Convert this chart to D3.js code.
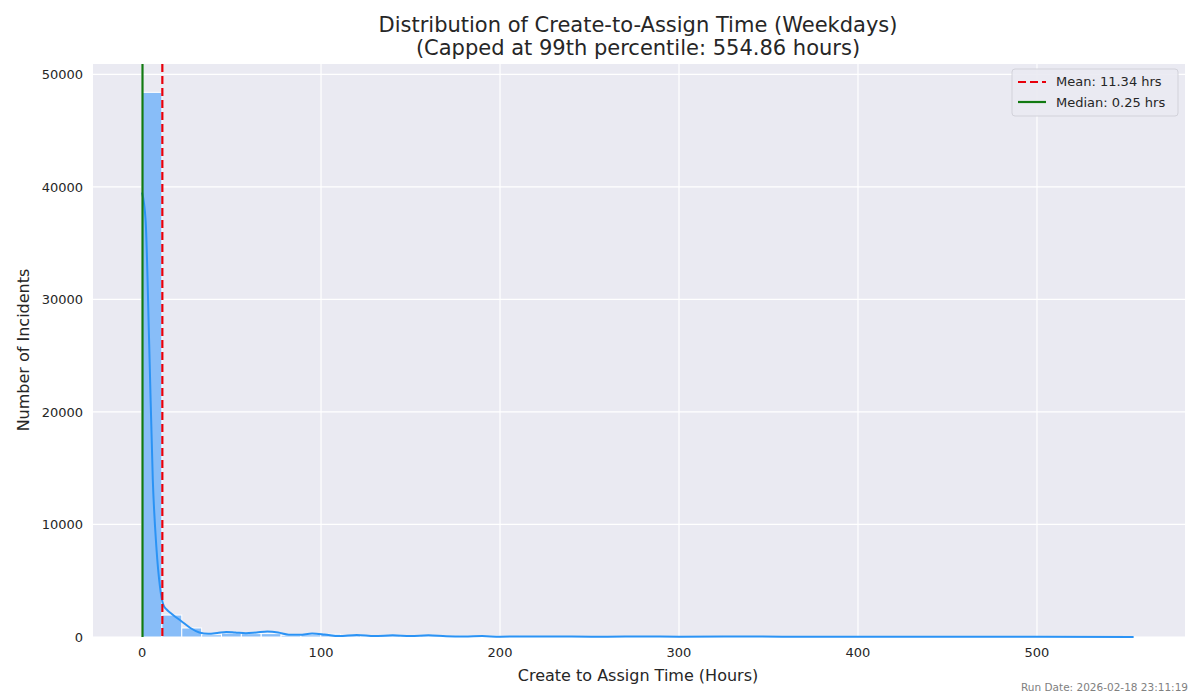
<!DOCTYPE html><html><head><meta charset="utf-8"><script src="https://cdn.jsdelivr.net/npm/d3@7"></script>
<style>body{margin:0;background:#fff}text{font-family:"DejaVu Sans",sans-serif}</style></head><body><svg id="c" width="1200" height="700"></svg>
<script>
const binMax=554.86, nBins=50;
const binCounts=[48400,1950,800,200,350,300,300,150,200,250,150,100,150,100,120,80,100,90,60,60,50,50,40,40,40,30,40,40,30,30,30,35,30,25,30,25,25,20,25,20,20,20,20,15,20,15,15,15,12,10];
const kdeX=[0,2,4,6,8,10,12,14,17,22,27,32,37,42,47,52,58,64,70,76,82,88,95,102,110,120,130,140,150,160,170,180,190,200,220,240,260,280,300,330,360,400,450,500,554];
const kdeY=[39500,37000,26000,14000,8000,4500,2800,2400,2000,1400,800,400,280,350,450,400,330,400,480,400,200,200,300,220,80,180,80,150,80,150,60,40,80,30,50,40,30,40,30,40,30,20,30,20,10];
const meanV=11.34, medianV=0.25;
const xTicks=[0,100,200,300,400,500], yTicks=[0,10000,20000,30000,40000,50000];
const svg=d3.select("#c");
const L=93,R=1185,T=64,B=637;
const x=d3.scale=d3.scaleLinear().domain([-27.4,582.7]).range([L,R]);
const y=d3.scaleLinear().domain([0,50920]).range([B,T]);
svg.append("rect").attr("x",L).attr("y",T).attr("width",R-L).attr("height",B-T).attr("fill","#eaeaf2");
xTicks.forEach(t=>svg.append("line").attr("x1",x(t)).attr("x2",x(t)).attr("y1",T).attr("y2",B).attr("stroke","#fff").attr("stroke-width",1.2));
yTicks.forEach(t=>svg.append("line").attr("x1",L).attr("x2",R).attr("y1",y(t)).attr("y2",y(t)).attr("stroke","#fff").attr("stroke-width",1.2));
const bw=binMax/nBins;
svg.selectAll(".b").data(binCounts).enter().append("rect").attr("x",(d,i)=>x(i*bw)).attr("width",x(bw)-x(0)).attr("y",d=>y(d)).attr("height",d=>B-y(d)).attr("fill","#88bdf8").attr("stroke","#fff").attr("stroke-width",1);
svg.append("path").datum(kdeX.map((v,i)=>[v,kdeY[i]])).attr("d",d3.line().x(d=>x(d[0])).y(d=>y(d[1])).curve(d3.curveMonotoneX)).attr("fill","none").attr("stroke","#2b93f5").attr("stroke-width",2);
svg.append("line").attr("x1",x(meanV)).attr("x2",x(meanV)).attr("y1",T).attr("y2",B).attr("stroke","#e8000b").attr("stroke-width",2.2).attr("stroke-dasharray","8,4");
svg.append("line").attr("x1",x(medianV)).attr("x2",x(medianV)).attr("y1",T).attr("y2",B).attr("stroke","#127a12").attr("stroke-width",2.2);
xTicks.forEach(t=>svg.append("text").attr("x",x(t)).attr("y",B+20).attr("text-anchor","middle").attr("font-size",13).attr("fill","#262626").text(t));
yTicks.forEach(t=>svg.append("text").attr("x",L-10).attr("y",y(t)+5).attr("text-anchor","end").attr("font-size",13).attr("fill","#262626").text(t));
svg.append("text").attr("x",638).attr("y",32).attr("text-anchor","middle").attr("font-size",21).attr("fill","#262626").text("Distribution of Create-to-Assign Time (Weekdays)");
svg.append("text").attr("x",638).attr("y",55).attr("text-anchor","middle").attr("font-size",21).attr("fill","#262626").text("(Capped at 99th percentile: 554.86 hours)");
svg.append("text").attr("x",638).attr("y",681).attr("text-anchor","middle").attr("font-size",16).attr("fill","#262626").text("Create to Assign Time (Hours)");
svg.append("text").attr("transform","translate(29,350) rotate(-90)").attr("text-anchor","middle").attr("font-size",16).attr("fill","#262626").text("Number of Incidents");
svg.append("text").attr("x",1188).attr("y",691).attr("text-anchor","end").attr("font-size",10.5).attr("fill","#808080").text("Run Date: 2026-02-18 23:11:19");
const lg=svg.append("g").attr("transform","translate(1012,69)");
lg.append("rect").attr("width",166).attr("height",47).attr("rx",3).attr("fill","#eaeaf2").attr("stroke","#d0d0d8").attr("opacity",0.9);
lg.append("line").attr("x1",6).attr("x2",34).attr("y1",13).attr("y2",13).attr("stroke","#e8000b").attr("stroke-width",2.2).attr("stroke-dasharray","8,4");
lg.append("line").attr("x1",6).attr("x2",34).attr("y1",33).attr("y2",33).attr("stroke","#127a12").attr("stroke-width",2.2);
lg.append("text").attr("x",44).attr("y",17).attr("font-size",13).attr("fill","#262626").text("Mean: 11.34 hrs");
lg.append("text").attr("x",44).attr("y",38).attr("font-size",13).attr("fill","#262626").text("Median: 0.25 hrs");
</script></body></html>
